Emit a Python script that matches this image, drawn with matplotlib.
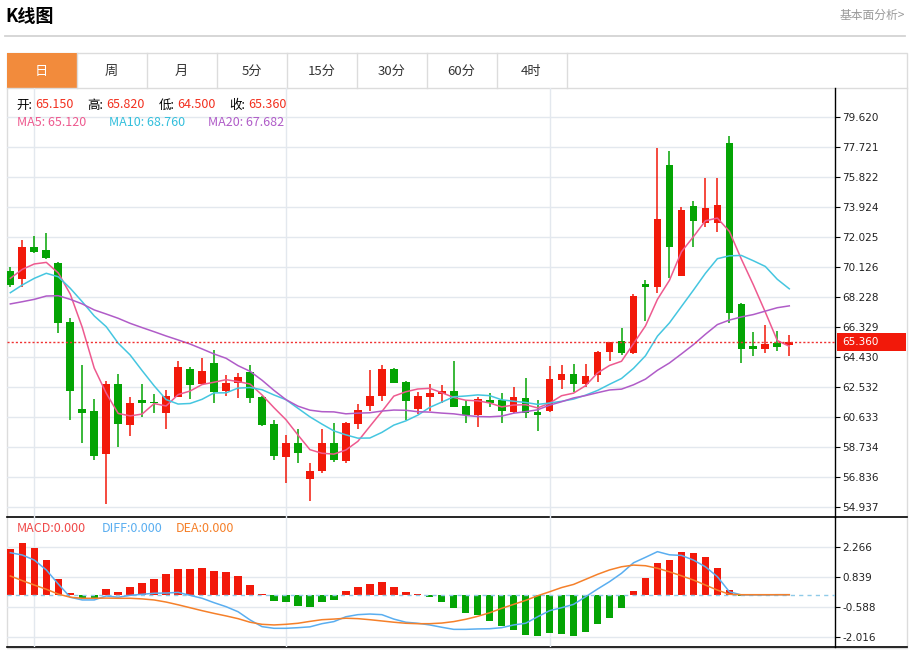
# K线图 - daily candles with MA and MACD panes
import numpy as np
import pandas as pd
import matplotlib
matplotlib.use('Agg')
import matplotlib.pyplot as plt
from matplotlib.patches import Rectangle
from matplotlib.transforms import blended_transform_factory

plt.rcParams['font.family'] = ['DejaVu Sans', 'Noto Sans CJK SC']
CJK = ['Noto Sans CJK SC', 'DejaVu Sans']

opens = [69.87, 69.35, 71.35, 71.18, 70.38, 66.63, 61.10, 61.01, 58.27, 62.70,
         60.13, 61.69, 61.56, 60.89, 61.90, 63.63, 62.68, 64.01, 62.28, 62.78,
         63.48, 61.86, 60.15, 58.10, 58.95, 56.69, 57.20, 58.95, 57.85, 60.17,
         61.31, 61.94, 63.63, 62.85, 61.12, 61.90, 62.07, 62.26, 61.31, 60.74,
         61.69, 61.69, 60.95, 61.80, 60.93, 61.01, 62.96, 63.34, 62.70, 63.27,
         64.75, 65.44, 64.68, 69.01, 68.86, 76.56, 69.56, 73.97, 72.87, 72.87,
         77.97, 67.77, 65.11, 64.92, 65.28, 65.15]
highs = [70.09, 71.82, 72.07, 72.28, 70.42, 66.86, 63.90, 61.73, 62.91, 63.34,
         61.90, 62.68, 62.07, 62.32, 64.16, 63.80, 64.35, 64.85, 63.27, 63.42,
         63.90, 61.94, 60.42, 59.47, 59.85, 57.68, 59.84, 60.25, 60.32, 61.44,
         63.59, 63.90, 63.70, 62.91, 62.21, 62.70, 62.64, 64.18, 61.69, 61.90,
         62.11, 62.15, 62.53, 63.06, 61.69, 63.84, 63.90, 63.97, 63.97, 64.81,
         65.38, 66.27, 68.38, 69.28, 77.62, 77.47, 73.89, 74.30, 75.72, 75.72,
         78.40, 67.85, 66.01, 66.44, 66.08, 65.82]
lows = [68.86, 68.82, 71.01, 70.59, 65.95, 60.42, 58.95, 57.89, 55.11, 58.73,
        59.41, 60.59, 60.89, 59.87, 61.90, 61.75, 62.68, 61.52, 61.96, 61.80,
        61.48, 60.04, 57.89, 56.42, 57.72, 55.30, 57.05, 57.78, 57.72, 59.87,
        60.99, 61.63, 62.75, 60.42, 60.80, 60.99, 61.48, 61.23, 60.25, 60.00,
        61.23, 60.25, 60.85, 60.53, 59.75, 60.95, 62.37, 62.18, 62.49, 62.81,
        64.18, 64.54, 64.60, 66.71, 68.48, 69.39, 69.56, 71.35, 72.62, 72.34,
        66.58, 64.01, 64.47, 64.65, 64.81, 64.50]
closes = [68.97, 71.39, 71.06, 70.66, 66.58, 62.26, 60.89, 58.16, 62.70, 60.17,
          61.48, 61.48, 61.48, 61.94, 63.76, 62.62, 63.53, 62.21, 62.75, 63.16,
          61.84, 60.09, 58.16, 58.95, 58.32, 57.20, 58.95, 57.89, 60.25, 61.06,
          61.94, 63.63, 62.78, 61.63, 61.94, 62.15, 62.26, 61.27, 60.74, 61.75,
          61.48, 61.01, 61.86, 60.85, 60.72, 63.02, 63.34, 62.68, 63.21, 64.75,
          65.38, 64.68, 68.27, 68.82, 73.16, 71.39, 73.71, 73.04, 73.86, 74.03,
          67.18, 64.94, 64.90, 65.21, 65.03, 65.36]

# moving-average values before a full window is available
ma5_head = [69.39, 69.96, 70.30, 70.40]
ma10_head = [68.48, 68.97, 69.39, 69.71, 69.49, 68.76, 67.91, 67.01, 66.33]
ma20_head = [67.77, 67.91, 68.06, 68.27, 68.29, 68.06, 67.77, 67.39, 67.13, 66.86,
             66.54, 66.27, 66.01, 65.74, 65.49, 65.23, 64.92, 64.60, 64.33]
ma_legend = [65.120, 68.760, 67.682]

macd_bar = [2.16, 2.45, 2.21, 1.65, 0.73, 0.07, -0.17, -0.17, 0.26, 0.13,
            0.38, 0.54, 0.73, 0.98, 1.24, 1.21, 1.27, 1.13, 1.09, 0.89,
            0.45, 0.01, -0.31, -0.36, -0.52, -0.57, -0.33, -0.25, 0.18, 0.37,
            0.51, 0.59, 0.35, 0.13, 0.02, -0.11, -0.33, -0.65, -0.86, -0.98,
            -1.25, -1.50, -1.66, -1.93, -1.96, -1.82, -1.88, -1.95, -1.76, -1.41,
            -1.09, -0.65, 0.19, 0.81, 1.52, 1.65, 2.02, 1.97, 1.81, 1.26,
            0.21, -0.05, -0.03, -0.02, -0.01, 0.00]
diff = [2.00, 1.89, 1.65, 1.18, 0.51, -0.12, -0.25, -0.25, -0.06, -0.12,
        -0.03, 0.02, 0.07, 0.08, 0.11, -0.03, -0.17, -0.38, -0.57, -0.81,
        -1.20, -1.52, -1.60, -1.60, -1.57, -1.53, -1.38, -1.28, -1.05, -0.95,
        -0.92, -0.95, -1.16, -1.31, -1.36, -1.44, -1.55, -1.65, -1.65, -1.63,
        -1.62, -1.57, -1.44, -1.36, -1.05, -0.76, -0.62, -0.46, -0.10, 0.27,
        0.62, 1.02, 1.52, 1.78, 2.05, 1.90, 1.87, 1.65, 1.33, 0.86,
        0.14, -0.01, -0.01, -0.01, 0.00, 0.00]
dea = [0.89, 0.67, 0.46, 0.26, 0.03, -0.12, -0.17, -0.17, -0.16, -0.17,
       -0.17, -0.20, -0.25, -0.35, -0.48, -0.62, -0.76, -0.89, -1.01, -1.14,
       -1.31, -1.41, -1.44, -1.41, -1.36, -1.27, -1.19, -1.16, -1.12, -1.14,
       -1.19, -1.25, -1.31, -1.36, -1.38, -1.38, -1.35, -1.28, -1.17, -1.03,
       -0.86, -0.65, -0.46, -0.27, -0.05, 0.14, 0.34, 0.49, 0.73, 0.97,
       1.18, 1.33, 1.41, 1.38, 1.26, 1.09, 0.90, 0.70, 0.46, 0.22,
       0.02, 0.00, 0.00, 0.00, 0.00, 0.00]
macd_legend = [0.000, 0.000, 0.000]

price_ticks = [54.937, 56.836, 58.734, 60.633, 62.532, 64.430, 66.329,
               68.228, 70.126, 72.025, 73.924, 75.822, 77.721, 79.620]
macd_ticks = [-2.016, -0.588, 0.839, 2.266]
month_marks = [2, 23, 45]
tabs = ['日', '周', '月', '5分', '15分', '30分', '60分', '4时']

RED = '#f2190a'
GREEN = '#04a404'
C_MA5 = '#ee5a8f'
C_MA10 = '#45c6e0'
C_MA20 = '#b05cc8'
C_DIFF = '#5aaef0'
C_DEA = '#f5802a'
GRID = '#e3e8ee'

W, H = 910, 650
fig = plt.figure(figsize=(W / 100, H / 100), dpi=100)


def ftext(px, py, s, **kw):
    # text placed in pixel coords, drawn above all axes
    return fig.text(px / W, 1 - py / H, s, zorder=10, **kw)


# ---- page frame in pixel coords ----
bg = fig.add_axes([0, 0, 1, 1])
bg.set_xlim(0, W)
bg.set_ylim(H, 0)
bg.axis('off')
bg.text(5, 16, 'K线图', fontsize=13, weight='bold', family=CJK, va='center')
bg.text(905, 15, '基本面分析>', fontsize=8.5, color='#999999', ha='right',
        va='center', family=CJK)
bg.plot([5, 905], [36, 36], color='#d3d3d3', lw=1.3)
bg.add_patch(Rectangle((6.5, 52.5), 900, 595, fill=False, ec='#dcdcdc', lw=1))
bg.add_patch(Rectangle((7, 53), 69.5, 35, fc='#f28b3c', ec='none'))
bg.plot([6.5, 906.5], [88, 88], color='#dcdcdc', lw=1)
seps = [6.5, 76.5, 146.5, 216.5, 286.5, 356.5, 426.5, 496.5, 566.5]
for k, t in enumerate(tabs):
    bg.plot([seps[k + 1]] * 2, [52.5, 88], color='#dcdcdc', lw=1)
    bg.text((seps[k] + seps[k + 1]) / 2, 71, t, fontsize=9.5, family=CJK,
            ha='center', va='center', color='white' if k == 0 else '#333333')
bg.plot([6.5, 906.5], [517, 517], color='black', lw=1.2)
bg.plot([6.5, 906.5], [647, 647], color='black', lw=1.2)

x = np.arange(len(closes))
xl = (-0.32, 68.84)


def make_axes(top, bottom):
    a = fig.add_axes([6.5 / W, 1 - bottom / H, (835.3 - 6.5) / W, (bottom - top) / H])
    a.set_facecolor('none')
    for s in ['left', 'top', 'bottom']:
        a.spines[s].set_visible(False)
    a.spines['right'].set_color('black')
    a.spines['right'].set_linewidth(1)
    a.yaxis.tick_right()
    a.set_xticks([])
    a.tick_params(axis='y', length=3.6, width=0.8, pad=1.5, labelsize=7.5,
                  labelcolor='#222222')
    a.set_xlim(*xl)
    for m in month_marks:
        a.axvline(m, color=GRID, lw=1, zorder=0)
    return a


# ---- price pane ----
pa = make_axes(88, 517)
pa.set_ylim(54.28, 81.44)
pa.set_yticks(price_ticks)
pa.set_yticklabels(['%.3f' % v for v in price_ticks])
for v in price_ticks:
    pa.axhline(v, color=GRID, lw=1, zorder=0)

o = np.array(opens)
c = np.array(closes)
up = c >= o
cols = np.where(up, RED, GREEN)
body_low = np.minimum(o, c)
body_h = np.maximum(np.abs(c - o), 0.07)
pa.vlines(x, lows, highs, colors=cols, lw=1.1, zorder=2)
pa.bar(x, body_h, bottom=body_low, width=0.64, color=cols, lw=0, zorder=3)

cs = pd.Series(closes)
ma5 = cs.rolling(5).mean().to_numpy()
ma10 = cs.rolling(10).mean().to_numpy()
ma20 = cs.rolling(20).mean().to_numpy()
ma5[:len(ma5_head)] = ma5_head
ma10[:len(ma10_head)] = ma10_head
ma20[:len(ma20_head)] = ma20_head
pa.plot(x, ma5, color=C_MA5, lw=1.1, zorder=4)
pa.plot(x, ma10, color=C_MA10, lw=1.1, zorder=4)
pa.plot(x, ma20, color=C_MA20, lw=1.1, zorder=4)

last = closes[-1]
pa.axhline(last, color='#f03030', lw=1, ls=(0, (1.5, 1.5)), zorder=5)
tr = blended_transform_factory(bg.transData, pa.transData)
pa.add_patch(Rectangle((837, last - 0.55), 69, 1.1, transform=tr, fc='#f2190a',
                       ec='none', clip_on=False, zorder=6))
pa.text(842, last, '%.3f' % last, transform=tr, color='white', fontsize=7.5,
        va='center', ha='left', clip_on=False, zorder=7)

# legend rows
red_txt = '#f2301f'
row1 = [('开:', 16.5, 'black'), ('%.3f' % opens[-1], 35, red_txt),
        ('高:', 87.5, 'black'), ('%.3f' % highs[-1], 106, red_txt),
        ('低:', 158.5, 'black'), ('%.3f' % lows[-1], 177, red_txt),
        ('收:', 229.5, 'black'), ('%.3f' % closes[-1], 248, red_txt)]
for t, px, col in row1:
    ftext(px, 105, t, fontsize=9, color=col, family=CJK, va='center')
row2 = [('MA5: %.3f' % ma_legend[0], 17, C_MA5),
        ('MA10: %.3f' % ma_legend[1], 109, '#33bfdc'),
        ('MA20: %.3f' % ma_legend[2], 208, C_MA20)]
for t, px, col in row2:
    ftext(px, 122.5, t, fontsize=9, color=col, family=CJK, va='center')

# ---- MACD pane ----
ma = make_axes(517, 647)
ma.set_ylim(-2.49, 3.70)
ma.set_yticks(macd_ticks)
ma.set_yticklabels(['%.3f' % v for v in macd_ticks])
for v in macd_ticks:
    ma.axhline(v, color=GRID, lw=1, zorder=0)
mb = np.array(macd_bar)
ma.bar(x, mb, width=0.62, color=np.where(mb >= 0, RED, GREEN), lw=0, zorder=2)
ma.axhline(0, color='#8fcbe8', lw=1, ls=(0, (3, 3)), zorder=3)
ma.plot(x, diff, color=C_DIFF, lw=1.1, zorder=4)
ma.plot(x, dea, color=C_DEA, lw=1.1, zorder=4)

row3 = [('MACD:%.3f' % macd_legend[0], 17, '#f04a4a'),
        ('DIFF:%.3f' % macd_legend[1], 102, C_DIFF),
        ('DEA:%.3f' % macd_legend[2], 176, C_DEA)]
for t, px, col in row3:
    ftext(px, 528.5, t, fontsize=9, color=col, family=CJK, va='center')

fig.savefig('out.png', dpi=100, facecolor='white')
